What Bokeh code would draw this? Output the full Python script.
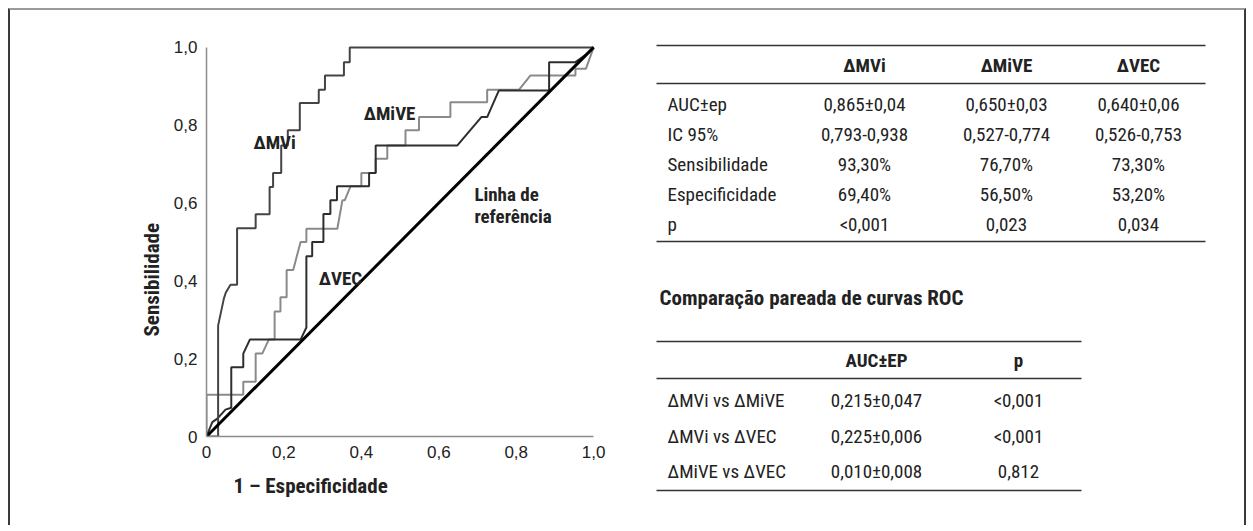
from bokeh.plotting import figure
from bokeh.models import Range1d, FixedTicker, Label, Title
from bokeh.layouts import row
from bokeh.core.properties import value
from bokeh.embed import file_html
from bokeh.resources import INLINE

# ---------------- data ----------------
tick_values = [0, 0.2, 0.4, 0.6, 0.8, 1.0]
tick_labels = ["0", "0,2", "0,4", "0,6", "0,8", "1,0"]

mvi_points = [(0, 0), (0.03, 0), (0.03, 0.285), (0.045, 0.355), (0.05, 0.37), (0.062, 0.39),
              (0.079, 0.39), (0.079, 0.535), (0.127, 0.535), (0.127, 0.571), (0.163, 0.571),
              (0.163, 0.641), (0.172, 0.641), (0.172, 0.677), (0.193, 0.677), (0.193, 0.748),
              (0.21, 0.748), (0.21, 0.787), (0.241, 0.787), (0.241, 0.857), (0.29, 0.857),
              (0.29, 0.891), (0.306, 0.891), (0.306, 0.928), (0.355, 0.928), (0.355, 0.962),
              (0.37, 0.962), (0.37, 1.0), (1.0, 1.0)]

mive_points = [(0, 0), (0, 0.107), (0.095, 0.107), (0.095, 0.141), (0.127, 0.141), (0.127, 0.213),
               (0.144, 0.213), (0.161, 0.249), (0.176, 0.249), (0.176, 0.321), (0.191, 0.321),
               (0.191, 0.358), (0.207, 0.358), (0.207, 0.428), (0.224, 0.428), (0.243, 0.5),
               (0.258, 0.5), (0.258, 0.534), (0.338, 0.534), (0.351, 0.607), (0.357, 0.607),
               (0.372, 0.643), (0.40, 0.643), (0.40, 0.677), (0.437, 0.677), (0.437, 0.714),
               (0.467, 0.714), (0.467, 0.748), (0.514, 0.748), (0.514, 0.787), (0.549, 0.787),
               (0.549, 0.821), (0.63, 0.821), (0.63, 0.859), (0.725, 0.859), (0.725, 0.891),
               (0.807, 0.891), (0.837, 0.928), (0.953, 0.928), (0.953, 0.945), (0.98, 0.945),
               (1.0, 1.0)]

vec_points = [(0, 0), (0.015, 0.037), (0.028, 0.046), (0.049, 0.069), (0.064, 0.074),
              (0.064, 0.178), (0.095, 0.178), (0.095, 0.213), (0.112, 0.249), (0.243, 0.249),
              (0.258, 0.28), (0.258, 0.463), (0.273, 0.463), (0.273, 0.5), (0.302, 0.5),
              (0.302, 0.572), (0.32, 0.572), (0.32, 0.607), (0.337, 0.607), (0.337, 0.643),
              (0.42, 0.643), (0.42, 0.677), (0.437, 0.677), (0.437, 0.748), (0.648, 0.748),
              (0.71, 0.821), (0.725, 0.821), (0.755, 0.889), (0.885, 0.889), (0.885, 0.962),
              (0.953, 0.962), (0.985, 0.985), (1.0, 1.0)]

reference_points = [(0, 0), (1, 1)]

table1_columns = ["ΔMVi", "ΔMiVE", "ΔVEC"]
table1_rows = ["AUC±ep", "IC 95%", "Sensibilidade", "Especificidade", "p"]
table1_mvi = ["0,865±0,04", "0,793-0,938", "93,30%", "69,40%", "<0,001"]
table1_mive = ["0,650±0,03", "0,527-0,774", "76,70%", "56,50%", "0,023"]
table1_vec = ["0,640±0,06", "0,526-0,753", "73,30%", "53,20%", "0,034"]

table2_title = "Comparação pareada de curvas ROC"
table2_columns = ["AUC±EP", "p"]
table2_rows = ["ΔMVi vs ΔMiVE", "ΔMVi vs ΔVEC", "ΔMiVE vs ΔVEC"]
table2_auc = ["0,215±0,047", "0,225±0,006", "0,010±0,008"]
table2_p = ["<0,001", "<0,001", "0,812"]

# ---------------- styles ----------------
FONT = "Roboto Condensed, Roboto, sans-serif"
TICK_FONT = "Liberation Sans, Arial, sans-serif"
TXT = "#222222"

# ---------------- ROC figure ----------------
roc = figure(width=620, height=515, output_backend="svg", toolbar_location=None,
             x_range=Range1d(0, 1.01), y_range=Range1d(0, 1.01),
             min_border_left=196, min_border_right=33, min_border_top=33, min_border_bottom=89)
roc.frame_align = False
roc.outline_line_color = None
roc.grid.grid_line_color = None
for ax in (roc.xaxis[0], roc.yaxis[0]):
    ax.bounds = (0, 1)
    ax.ticker = FixedTicker(ticks=tick_values)
    ax.major_label_overrides = {v: l for v, l in zip(tick_values, tick_labels)}
    ax.axis_line_color = "#8c8c8c"
    ax.axis_line_width = 1.5
    ax.major_tick_line_color = None
    ax.minor_tick_line_color = None
    ax.major_label_text_font = TICK_FONT
    ax.major_label_text_font_size = "17px"
    ax.major_label_text_color = TXT
roc.xaxis[0].major_label_standoff = 3
roc.yaxis[0].major_label_standoff = 3

# axis titles (set off toward the origin, as in the original)
x_title = Title(text="1 – Especificidade", align="left", offset=27, standoff=22,
                text_font=FONT, text_font_style="bold", text_font_size="21px", text_color=TXT)
y_title = Title(text="Sensibilidade", align="left", offset=100, standoff=14,
                text_font=FONT, text_font_style="bold", text_font_size="21px", text_color=TXT)
roc.add_layout(x_title, "below")
roc.add_layout(y_title, "left")

def xy(points):
    return [p[0] for p in points], [p[1] for p in points]

x, y = xy(mive_points)
roc.line(x, y, line_color="#8a8a8a", line_width=2)
x, y = xy(vec_points)
roc.line(x, y, line_color="#2e2e2e", line_width=2)
x, y = xy(mvi_points)
roc.line(x, y, line_color="#444444", line_width=2)
x, y = xy(reference_points)
roc.line(x, y, line_color="#000000", line_width=3)

def lab(p, x, y, text, size="19px", align="center"):
    p.add_layout(Label(x=x, y=y, text=text, text_font=FONT, text_font_size=size,
                       text_font_style="bold", text_color=TXT,
                       text_align=align, text_baseline="middle"))

lab(roc, 0.176, 0.756, "ΔMVi")
lab(roc, 0.473, 0.830, "ΔMiVE")
lab(roc, 0.346, 0.406, "ΔVEC")
lab(roc, 0.692, 0.622, "Linha de", align="left")
lab(roc, 0.692, 0.566, "referência", align="left")

# ---------------- tables figure ----------------
tab = figure(width=614, height=515, output_backend="svg", toolbar_location=None,
             x_range=Range1d(630, 1244), y_range=Range1d(525, 10),
             min_border_left=0, min_border_right=0, min_border_top=0, min_border_bottom=0)
tab.frame_align = False
tab.axis.visible = False
tab.grid.grid_line_color = None
tab.outline_line_color = None

SIZE = "19px"
t1_col_x = [864, 1006, 1138]
t1_rule_y = [45, 83, 241]
t1_header_y = 65
t1_row_y = [104, 134, 164, 194, 224]
t1_left, t1_right = 656, 1205

tab.segment(x0=[t1_left] * 3, x1=[t1_right] * 3, y0=t1_rule_y, y1=t1_rule_y,
            line_color="#333333", line_width=1.6)
tab.text(x=t1_col_x, y=[t1_header_y] * 3, text=table1_columns, text_align="center",
         text_baseline="middle", text_font=value(FONT), text_font_style="bold",
         text_font_size=SIZE, text_color=TXT)
tab.text(x=[667] * 5, y=t1_row_y, text=table1_rows, text_align="left", text_baseline="middle",
         text_font=value(FONT), text_font_size=SIZE, text_color=TXT)
for cx, vals in zip(t1_col_x, [table1_mvi, table1_mive, table1_vec]):
    tab.text(x=[cx] * 5, y=t1_row_y, text=vals, text_align="center", text_baseline="middle",
             text_font=value(FONT), text_font_size=SIZE, text_color=TXT)

tab.text(x=[659], y=[297], text=[table2_title], text_align="left", text_baseline="middle",
         text_font=value(FONT), text_font_style="bold", text_font_size="21px", text_color=TXT)

t2_col_x = [876, 1018]
t2_rule_y = [341, 378, 490]
t2_header_y = 360
t2_row_y = [400, 436, 471]
t2_left, t2_right = 656, 1081
tab.segment(x0=[t2_left] * 3, x1=[t2_right] * 3, y0=t2_rule_y, y1=t2_rule_y,
            line_color="#333333", line_width=1.6)
tab.text(x=t2_col_x, y=[t2_header_y] * 2, text=table2_columns, text_align="center",
         text_baseline="middle", text_font=value(FONT), text_font_style="bold",
         text_font_size=SIZE, text_color=TXT)
tab.text(x=[667] * 3, y=t2_row_y, text=table2_rows, text_align="left", text_baseline="middle",
         text_font=value(FONT), text_font_size=SIZE, text_color=TXT)
for cx, vals in zip(t2_col_x, [table2_auc, table2_p]):
    tab.text(x=[cx] * 3, y=t2_row_y, text=vals, text_align="center", text_baseline="middle",
             text_font=value(FONT), text_font_size=SIZE, text_color=TXT)

layout = row(roc, tab)
layout.styles = {"margin-left": "8px", "margin-top": "8px",
                 "border-left": "2px solid #3a3a3a", "border-top": "2px solid #9a9a9a",
                 "border-right": "2px solid #3a3a3a"}

open("out.html", "w").write(file_html(layout, INLINE))
